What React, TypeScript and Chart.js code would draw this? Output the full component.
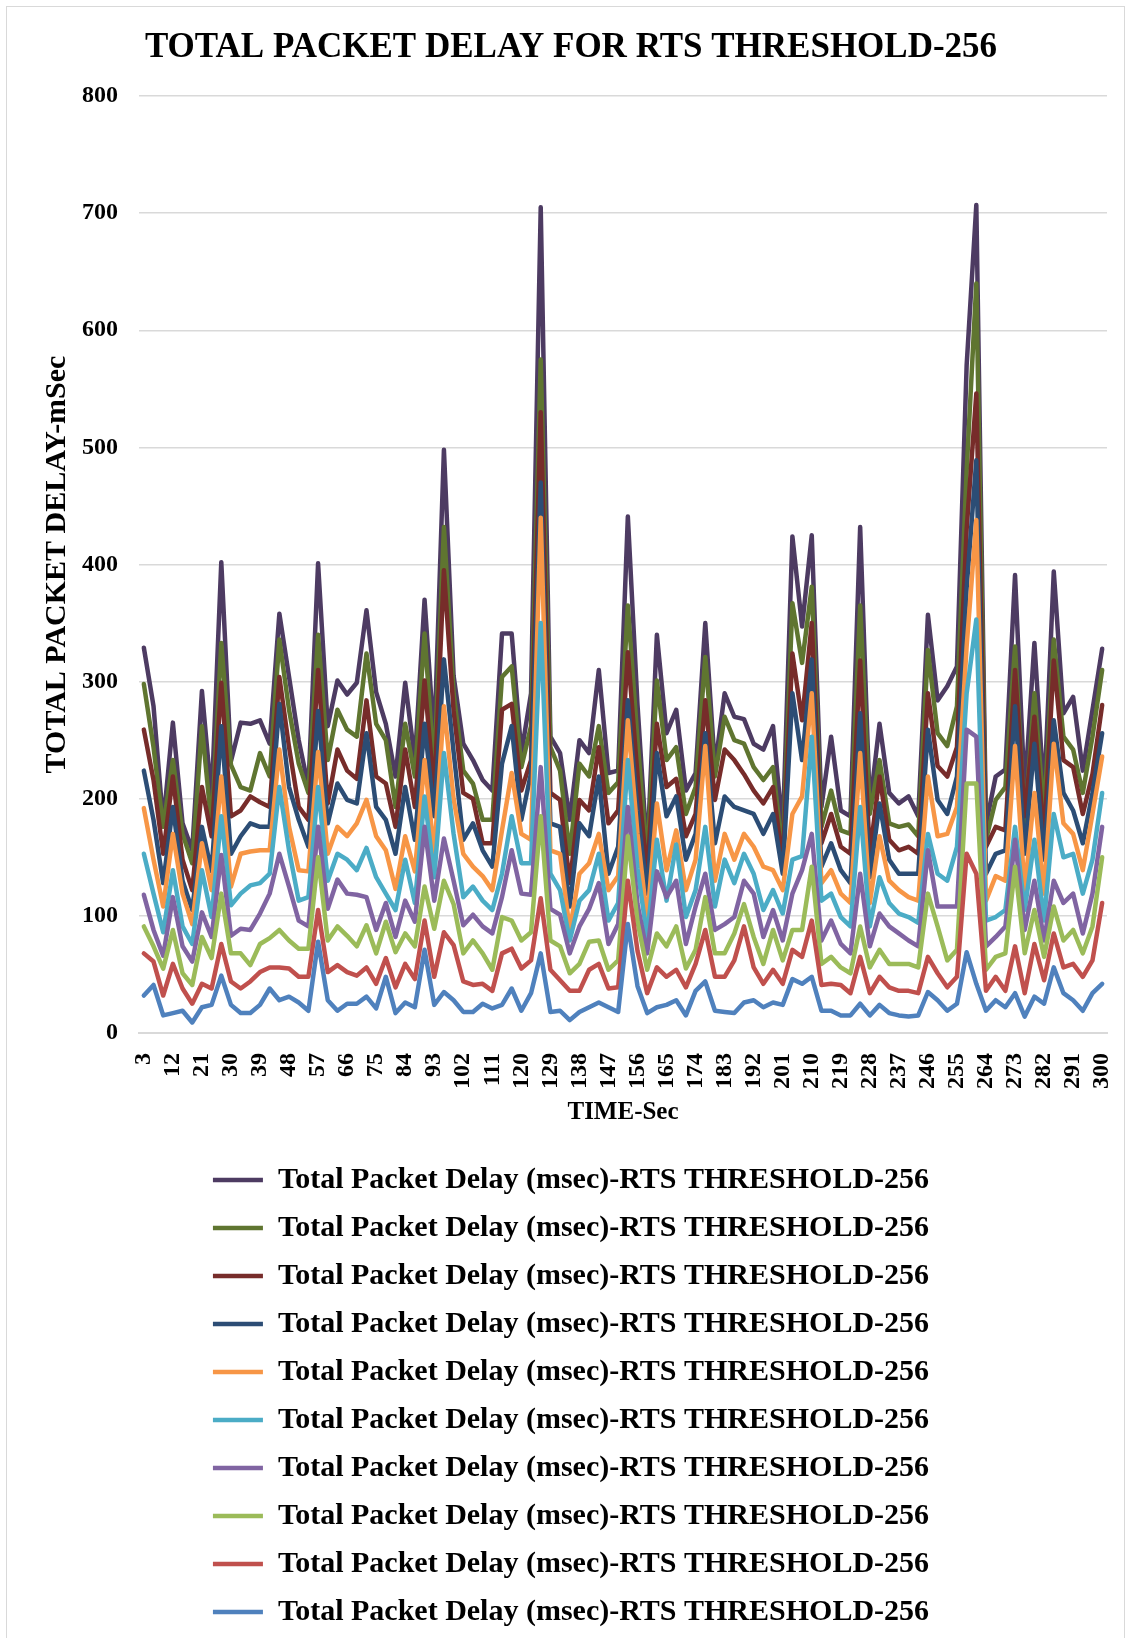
import React, { useEffect, useRef } from "react";
import { Chart, registerables } from "chart.js";

Chart.register(...registerables);

const categories = [
  3, 6, 9, 12, 15, 18, 21, 24, 27, 30, 33, 36, 39, 42, 45, 48, 51, 54, 57, 60,
  63, 66, 69, 72, 75, 78, 81, 84, 87, 90, 93, 96, 99, 102, 105, 108, 111, 114, 117, 120,
  123, 126, 129, 132, 135, 138, 141, 144, 147, 150, 153, 156, 159, 162, 165, 168, 171, 174, 177, 180,
  183, 186, 189, 192, 195, 198, 201, 204, 207, 210, 213, 216, 219, 222, 225, 228, 231, 234, 237, 240,
  243, 246, 249, 252, 255, 258, 261, 264, 267, 270, 273, 276, 279, 282, 285, 288, 291, 294, 297, 300,
];

const xTickLabels = [
  3, 12, 21, 30, 39, 48, 57, 66, 75, 84, 93, 102, 111, 120, 129, 138, 147, 156, 165, 174,
  183, 192, 201, 210, 219, 228, 237, 246, 255, 264, 273, 282, 291, 300,
];

const seriesLabel = "Total Packet Delay (msec)-RTS THRESHOLD-256";

const series1 = [
  329, 279, 179, 265, 179, 156, 292, 200, 402, 232,
  265, 264, 267, 247, 358, 304, 250, 210, 401, 262,
  301, 289, 299, 361, 291, 264, 219, 299, 233, 370,
  249, 498, 305, 247, 233, 216, 207, 341, 341, 239,
  290, 705, 253, 239, 182, 250, 239, 310, 222, 224,
  441, 280, 152, 340, 256, 276, 207, 222, 350, 227,
  290, 270, 268, 247, 242, 262, 172, 424, 347, 425,
  193, 253, 190, 185, 432, 193, 264, 205, 196, 202,
  185, 357, 284, 296, 313, 570, 707, 178, 219, 225,
  391, 205, 333, 202, 394, 273, 287, 224, 276, 328,
];
const series2 = [
  298, 244, 176, 233, 170, 145, 262, 176, 333, 229,
  210, 207, 239, 219, 336, 276, 230, 205, 340, 233,
  276, 259, 253, 324, 264, 250, 193, 264, 219, 341,
  224, 432, 290, 224, 213, 182, 182, 304, 313, 227,
  262, 575, 244, 224, 153, 230, 219, 262, 205, 214,
  365, 250, 148, 301, 233, 244, 187, 210, 321, 219,
  270, 250, 247, 227, 216, 227, 152, 367, 316, 381,
  176, 207, 173, 170, 365, 187, 233, 179, 176, 178,
  168, 327, 256, 245, 279, 480, 640, 165, 199, 210,
  330, 179, 290, 187, 336, 253, 242, 205, 253, 310,
];
const series3 = [
  259, 216, 153, 219, 148, 122, 210, 168, 299, 185,
  190, 202, 197, 193, 304, 244, 193, 182, 310, 196,
  242, 224, 217, 284, 219, 213, 176, 242, 193, 301,
  205, 395, 275, 205, 200, 162, 162, 276, 281, 207,
  233, 530, 205, 199, 128, 199, 190, 244, 179, 190,
  325, 220, 136, 264, 210, 217, 168, 187, 284, 199,
  242, 233, 221, 207, 196, 210, 145, 324, 267, 350,
  162, 187, 159, 153, 318, 153, 219, 165, 156, 159,
  153, 290, 228, 219, 244, 430, 546, 159, 176, 173,
  310, 185, 270, 165, 318, 233, 227, 187, 221, 280,
];
const series4 = [
  224, 182, 128, 193, 130, 105, 176, 138, 262, 153,
  168, 179, 176, 176, 281, 210, 182, 159, 275, 179,
  213, 199, 196, 256, 193, 182, 153, 210, 165, 264,
  185, 319, 240, 165, 179, 156, 142, 230, 262, 182,
  222, 470, 179, 176, 108, 179, 168, 219, 136, 159,
  284, 190, 119, 239, 185, 202, 148, 170, 256, 162,
  202, 193, 190, 187, 170, 187, 136, 290, 233, 319,
  142, 162, 139, 128, 273, 133, 196, 148, 136, 136,
  136, 259, 199, 187, 219, 380, 489, 136, 153, 156,
  279, 153, 247, 148, 267, 205, 190, 162, 205, 256,
];
const series5 = [
  192, 148, 108, 170, 119, 93, 162, 122, 219, 125,
  153, 155, 156, 156, 242, 176, 139, 138, 240, 153,
  176, 168, 179, 199, 168, 156, 123, 168, 138, 233,
  153, 279, 200, 153, 142, 134, 122, 173, 222, 170,
  165, 440, 156, 153, 88, 136, 145, 170, 122, 134,
  267, 170, 96, 196, 139, 173, 122, 148, 245, 130,
  170, 148, 170, 159, 142, 139, 122, 187, 202, 290,
  128, 139, 119, 111, 239, 111, 168, 130, 122, 116,
  113, 219, 168, 170, 193, 330, 438, 113, 134, 130,
  245, 122, 205, 119, 247, 179, 170, 139, 187, 236,
];
const series6 = [
  153, 119, 86, 139, 91, 76, 139, 99, 185, 109,
  119, 126, 128, 136, 210, 156, 113, 116, 210, 130,
  153, 148, 139, 158, 133, 119, 105, 148, 111, 202,
  133, 239, 170, 116, 125, 113, 105, 136, 185, 145,
  145, 350, 136, 122, 79, 113, 122, 153, 96, 111,
  233, 140, 82, 165, 113, 161, 99, 122, 176, 108,
  148, 128, 153, 136, 105, 122, 102, 148, 151, 253,
  113, 119, 99, 91, 193, 91, 133, 111, 102, 99,
  94, 170, 136, 130, 159, 290, 353, 96, 99, 105,
  176, 105, 165, 96, 187, 150, 153, 119, 148, 205,
];
const series7 = [
  118, 88, 66, 116, 74, 61, 103, 82, 152, 83,
  89, 88, 102, 119, 153, 125, 96, 91, 176, 106,
  131, 119, 118, 116, 88, 111, 82, 113, 95, 176,
  113, 166, 130, 92, 101, 91, 85, 116, 156, 119,
  118, 227, 106, 101, 68, 91, 106, 128, 76, 93,
  193, 110, 68, 138, 116, 130, 76, 108, 136, 88,
  93, 99, 130, 119, 82, 105, 79, 119, 139, 170,
  79, 96, 76, 68, 136, 74, 102, 91, 85, 79,
  74, 156, 108, 108, 108, 259, 253, 74, 82, 91,
  165, 88, 130, 79, 130, 111, 119, 85, 119, 176,
];
const series8 = [
  91, 74, 55, 88, 51, 41, 82, 64, 119, 68,
  68, 58, 76, 81, 88, 79, 72, 72, 150, 79,
  91, 83, 74, 92, 68, 95, 69, 85, 74, 125,
  89, 130, 110, 68, 79, 68, 54, 99, 96, 79,
  86, 185, 79, 74, 51, 59, 78, 79, 54, 62,
  168, 95, 54, 85, 74, 91, 55, 71, 116, 68,
  68, 85, 110, 82, 59, 88, 62, 88, 88, 142,
  59, 65, 56, 51, 91, 56, 71, 59, 59, 59,
  56, 119, 91, 62, 71, 213, 213, 54, 65, 68,
  142, 68, 105, 65, 108, 79, 88, 68, 91, 150,
];
const series9 = [
  68, 61, 32, 59, 38, 25, 42, 38, 76, 44,
  38, 44, 52, 56, 56, 55, 48, 48, 105, 52,
  58, 52, 49, 56, 42, 64, 39, 59, 46, 96,
  48, 86, 75, 44, 41, 42, 36, 68, 72, 55,
  62, 115, 54, 45, 36, 36, 54, 59, 38, 39,
  130, 70, 34, 56, 48, 54, 39, 59, 88, 48,
  48, 62, 91, 56, 42, 54, 42, 71, 65, 96,
  41, 42, 41, 34, 65, 34, 48, 39, 36, 36,
  34, 65, 51, 39, 48, 153, 136, 36, 48, 36,
  74, 34, 76, 45, 85, 56, 59, 48, 62, 111,
];
const series10 = [
  32, 41, 15, 17, 19, 9, 22, 24, 49, 24,
  17, 17, 24, 38, 28, 31, 26, 19, 78, 28,
  19, 25, 25, 31, 21, 48, 17, 26, 22, 71,
  24, 35, 28, 18, 18, 25, 21, 24, 38, 19,
  34, 68, 18, 19, 11, 18, 22, 26, 22, 18,
  93, 40, 17, 22, 24, 28, 15, 36, 44, 19,
  18, 17, 26, 28, 22, 26, 24, 46, 42, 48,
  19, 19, 15, 15, 25, 15, 24, 17, 15, 14,
  15, 35, 28, 19, 25, 69, 42, 19, 28, 22,
  34, 14, 31, 25, 56, 34, 28, 19, 34, 42,
];

const seriesValues = [
  series1, series2, series3, series4, series5,
  series6, series7, series8, series9, series10,
];

const seriesColors = [
  "#4d3b62", "#5f7530", "#772c2a", "#2c4d75", "#f79646",
  "#4bacc6", "#8064a2", "#9bbb59", "#c0504d", "#4f81bd",
];

const FONT = "'Liberation Serif', 'Times New Roman', Times, serif";

export default function App() {
  const canvasRef = useRef<HTMLCanvasElement | null>(null);

  useEffect(() => {
    const canvas = canvasRef.current;
    if (!canvas) return;
    const n = seriesValues.length;
    const chart = new Chart(canvas, {
      type: "line",
      data: {
        labels: categories.map(String),
        datasets: seriesValues.map((vals, i) => ({
          label: seriesLabel,
          data: vals,
          borderColor: seriesColors[i],
          backgroundColor: seriesColors[i],
          borderWidth: 4.5,
          pointRadius: 0,
          pointHoverRadius: 0,
          tension: 0,
          borderCapStyle: "round",
          borderJoinStyle: "round",
          fill: false,
          order: n - 1 - i,
        })),
      },
      options: {
        responsive: false,
        animation: false,
        devicePixelRatio: 1,
        layout: { padding: { left: 28, right: 17, top: 0, bottom: 1 } },
        plugins: {
          title: {
            display: true,
            text: "TOTAL PACKET DELAY FOR RTS THRESHOLD-256",
            color: "#000",
            font: { family: FONT, size: 35, weight: "bold" },
            padding: { top: 20, bottom: 27 },
          },
          legend: {
            display: true,
            position: "bottom",
            labels: {
              usePointStyle: true,
              pointStyle: "line",
              pointStyleWidth: 50,
              color: "#000",
              font: { family: FONT, size: 30, weight: "bold" },
              padding: 18,
              sort: (a: any, b: any) => a.datasetIndex - b.datasetIndex,
            },
          },
          tooltip: { enabled: false },
        },
        scales: {
          x: {
            offset: true,
            grid: { display: false, drawTicks: false },
            border: { display: true, color: "#d9d9d9", width: 2 },
            ticks: {
              autoSkip: false,
              minRotation: 90,
              maxRotation: 90,
              padding: 20,
              color: "#000",
              font: { family: FONT, size: 24, weight: "bold" },
              callback: (_v: any, idx: number) =>
                xTickLabels.includes(categories[idx]) ? String(categories[idx]) : "",
            },
            title: {
              display: true,
              text: "TIME-Sec",
              color: "#000",
              font: { family: FONT, size: 25, weight: "bold" },
              padding: { top: 0, bottom: 19 },
            },
            afterFit: (s: any) => {
              s.height = 114;
              s.paddingLeft = 0;
              s.paddingRight = 0;
            },
          },
          y: {
            min: 0,
            max: 800,
            ticks: {
              stepSize: 100,
              padding: 21,
              color: "#000",
              font: { family: FONT, size: 24, weight: "bold" },
            },
            grid: { color: "#d9d9d9", lineWidth: 1.5, drawTicks: false },
            border: { display: false },
            title: {
              display: true,
              text: "TOTAL PACKET DELAY-mSec",
              color: "#000",
              font: { family: FONT, size: 30, weight: "bold" },
              padding: { top: 4, bottom: 0 },
            },
            afterFit: (s: any) => {
              s.width = 104;
            },
          },
        },
      },
    } as any);
    return () => chart.destroy();
  }, []);

  return (
    <div
      style={{
        position: "absolute",
        left: 6,
        top: 6,
        width: 1119,
        height: 1632,
        border: "1px solid #d9d9d9",
        borderBottom: "none",
        boxSizing: "border-box",
        background: "#fff",
        overflow: "hidden",
      }}
    >
      <canvas ref={canvasRef} width={1117} height={1631} style={{ display: "block" }} />
    </div>
  );
}
